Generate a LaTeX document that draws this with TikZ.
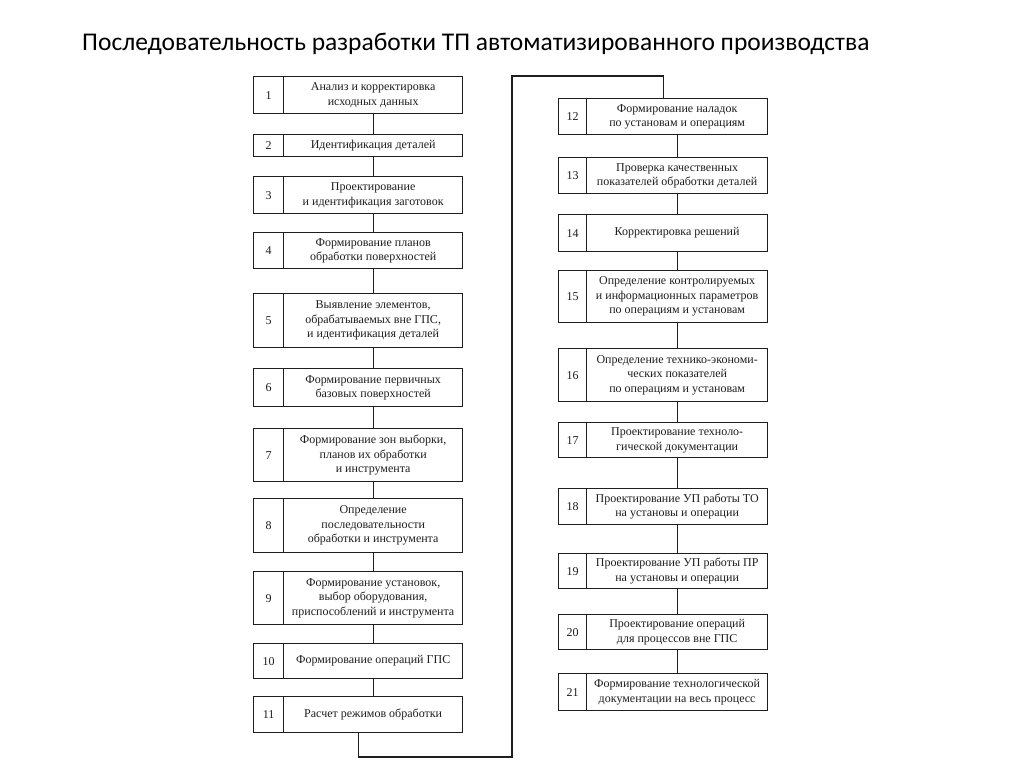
\documentclass[tikz,border=0pt]{standalone}
\usepackage{fontspec}
\setmainfont{Liberation Serif}
\newfontfamily\titlefont{Carlito}
\usetikzlibrary{calc}
\definecolor{ink}{RGB}{30,30,30}
\tikzset{
  x=1pt, y=-1pt,
  numbox/.style={draw=ink, line width=1.3pt, inner sep=0pt, text=ink, font=\fontsize{12}{14}\selectfont},
  txtbox/.style={draw=ink, line width=1.3pt, inner sep=0pt, align=center, text=ink, font=\fontsize{12}{14.5}\selectfont},
  link/.style={draw=ink, line width=1.3pt},
}
% #1 index, #2 left x, #3 divider x, #4 right x, #5 top y, #6 bottom y, #7 text
\newcommand\flowbox[7]{%
  \node[numbox, minimum width={#3-#2}, minimum height={#6-#5}, anchor=north west] (n#1) at (#2,#5) {#1};
  \node[txtbox, minimum width={#4-#3}, minimum height={#6-#5}, anchor=north west] (t#1) at (#3,#5) {#7};
}
\begin{document}
\begin{tikzpicture}
\useasboundingbox[fill=white] (0,0) rectangle (1024,767);
\node[anchor=base west, inner sep=0pt, font=\titlefont\fontsize{25.5}{28}\selectfont, text=black] (title) at (82,51) {Последовательность разработки ТП автоматизированного производства};
% left column
\flowbox{1}{253}{283}{462}{76}{113}{Анализ и корректировка\\исходных данных}
\flowbox{2}{253}{283}{462}{134}{156}{Идентификация деталей}
\flowbox{3}{253}{283}{462}{176}{213}{Проектирование\\и идентификация заготовок}
\flowbox{4}{253}{283}{462}{232}{268}{Формирование планов\\обработки поверхностей}
\flowbox{5}{253}{283}{462}{293}{347}{Выявление элементов,\\обрабатываемых вне ГПС,\\и идентификация деталей}
\flowbox{6}{253}{283}{462}{368}{406}{Формирование первичных\\базовых поверхностей}
\flowbox{7}{253}{283}{462}{428}{481}{Формирование зон выборки,\\планов их обработки\\и инструмента}
\flowbox{8}{253}{283}{462}{498}{552}{Определение\\последовательности\\обработки и инструмента}
\flowbox{9}{253}{283}{462}{571}{624}{Формирование установок,\\выбор оборудования,\\приспособлений и инструмента}
\flowbox{10}{253}{283}{462}{643}{678}{Формирование операций ГПС}
\flowbox{11}{253}{283}{462}{696}{732}{Расчет режимов обработки}
% right column
\flowbox{12}{558}{586}{767}{98}{134}{Формирование наладок\\по установам и операциям}
\flowbox{13}{558}{586}{767}{157}{193}{Проверка качественных\\показателей обработки деталей}
\flowbox{14}{558}{586}{767}{214}{251}{Корректировка решений}
\flowbox{15}{558}{586}{767}{270}{322}{Определение контролируемых\\и информационных параметров\\по операциям и установам}
\flowbox{16}{558}{586}{767}{348}{401}{Определение технико-экономи-\\ческих показателей\\по операциям и установам}
\flowbox{17}{558}{586}{767}{422}{457}{Проектирование техноло-\\гической документации}
\flowbox{18}{558}{586}{767}{488}{524}{Проектирование УП работы ТО\\на установы и операции}
\flowbox{19}{558}{586}{767}{553}{588}{Проектирование УП работы ПР\\на установы и операции}
\flowbox{20}{558}{586}{767}{614}{649}{Проектирование операций\\для процессов вне ГПС}
\flowbox{21}{558}{586}{767}{673}{710}{Формирование технологической\\документации на весь процесс}
% vertical links
\foreach \a/\b in {1/2,2/3,3/4,4/5,5/6,6/7,7/8,8/9,9/10,10/11,12/13,13/14,14/15,15/16,16/17,17/18,18/19,19/20,20/21}
  \draw[link] (t\a.south) -- (t\b.north);
% loop from 11 to 12
\coordinate (c11) at ($(n11.south west)!0.5!(t11.south east)$);
\coordinate (c12) at ($(n12.north west)!0.5!(t12.north east)$);
\coordinate (lb) at (512,757);
\coordinate (lt) at (512,76);
\draw[link] (c11) |- (lb) -- (lt) -| (c12);
\end{tikzpicture}
\end{document}
